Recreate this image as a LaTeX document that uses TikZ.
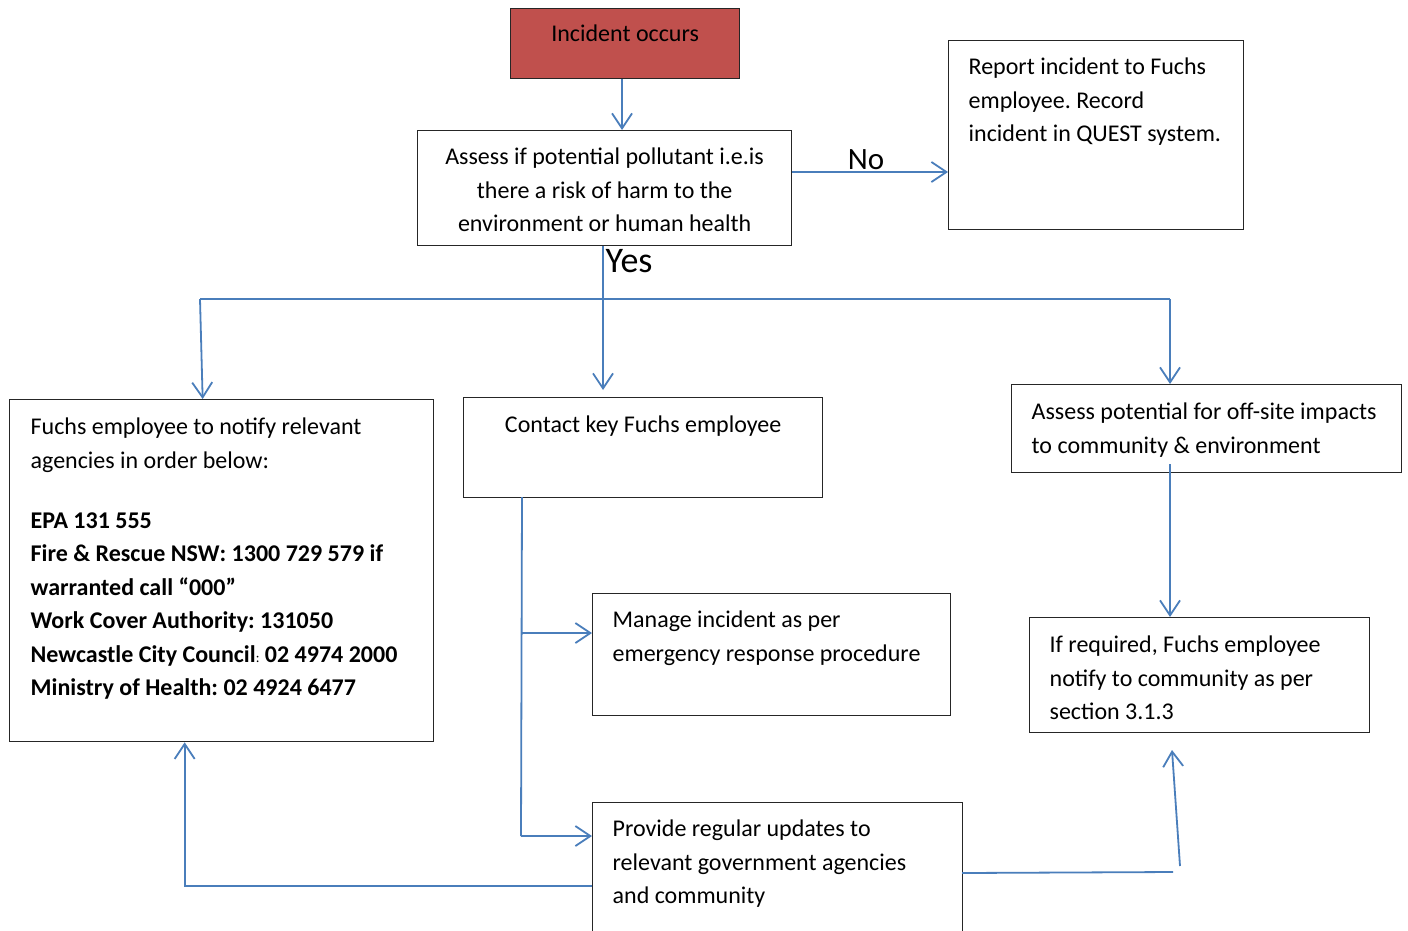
\documentclass[tikz,border=0pt]{standalone}
\usepackage{fontspec}
\setmainfont{Carlito}
\usetikzlibrary{arrows.meta}
\definecolor{conn}{HTML}{4A7EBB}
\definecolor{incred}{HTML}{C0504D}
\frenchspacing
\newcommand{\bxt}[4]{\begin{minipage}[t][#2][t]{#1}\vspace*{#3}\strut #4\end{minipage}}
\tikzset{
  box/.style={draw=black!85, line width=1.3pt, inner sep=0pt, anchor=north west,
    font=\fontsize{24}{33.5}\selectfont\frenchspacing},
  arr/.style={draw=conn, line width=1.8pt, -{Straight Barb[length=15pt,width=20pt]}},
  ln/.style={draw=conn, line width=1.8pt},
  lbl/.style={inner sep=0pt, font=\fontsize{31}{36}\selectfont}
}
\begin{document}
\begin{tikzpicture}[x=1pt,y=-1pt]
\clip (0,0) rectangle (1408,930);
\fill[white] (0,0) rectangle (1408,930);

\node[box, fill=incred] (inc) at (510,8)
  {\bxt{229pt}{70pt}{9.5pt}{\centering Incident occurs}};
\node[box] (assess) at (417,130)
  {\bxt{374pt}{115pt}{10.5pt}{\centering Assess if potential pollutant i.e.is\\there a risk of harm to the\\environment or human health}};
\node[box, inner xsep=20pt] (report) at (948,40)
  {\bxt{255pt}{189pt}{10.5pt}{\raggedright Report incident to Fuchs\\employee. Record\\incident in QUEST system.}};
\node[box, inner xsep=21pt] (notify) at (9,399)
  {\bxt{382pt}{342pt}{11.5pt}{\raggedright Fuchs employee to notify relevant\\agencies in order below:\par\vspace{26.5pt}
  \textbf{EPA 131 555}\\
  \textbf{Fire \& Rescue NSW: 1300 729 579 if}\\
  \textbf{warranted call “000”}\\
  \textbf{Work Cover Authority: 131050}\\
  \textbf{Newcastle City Council}{\fontsize{14}{14}\selectfont:} \textbf{02 4974 2000}\\
  \textbf{Ministry of Health: 02 4924 6477}}};
\node[box] (contact) at (463,397)
  {\bxt{359pt}{100pt}{11.5pt}{\centering Contact key Fuchs employee}};
\node[box, inner xsep=20pt] (offsite) at (1011,384)
  {\bxt{350pt}{88pt}{11.5pt}{\raggedright Assess potential for off-site impacts\\to community \& environment}};
\node[box, inner xsep=20pt] (manage) at (592,593)
  {\bxt{318pt}{122pt}{10.5pt}{\raggedright Manage incident as per\\emergency response procedure}};
\node[box, inner xsep=20pt] (req) at (1029,617)
  {\bxt{300pt}{115pt}{11.5pt}{\raggedright If required, Fuchs employee\\notify to community as per\\section 3.1.3}};
\node[box, inner xsep=20pt] (provide) at (592,802)
  {\bxt{330pt}{170pt}{10.5pt}{\raggedright Provide regular updates to\\relevant government agencies\\and community}};

% connectors
\draw[arr] (inc.south -| 622,0) -- (assess.north -| 622,0);
\coordinate (ny) at (0,172);
\draw[arr] (assess.east |- ny) -- (report.west |- ny);
\node[lbl] (no) at (866,160) {No};

\coordinate (hl) at (200,299);
\coordinate (hr) at (1170,299);
\coordinate (ym) at (603,299);
\draw[arr] (assess.south -| ym) -- ([yshift=7pt]contact.north -| ym);
\node[lbl, font=\fontsize{36}{40}\selectfont] (yes) at (629,261) {Yes};
\draw[ln] (hl) -- (hr);
\draw[arr] (hl) -- ([xshift=-19pt]notify.north);
\draw[arr] (hr) -- (offsite.north -| hr);
\draw[arr] ([yshift=9pt]offsite.south -| hr) -- (req.north -| hr);

\coordinate (cb) at (522,497);
\coordinate (b1) at (521.7,633);
\coordinate (b2) at (521,836);
\draw[ln] (cb) -- (b2);
\draw[arr] (b1) -- (b1 -| manage.west);
\draw[arr] (b2) -- (b2 -| provide.west);

\coordinate (p1) at (592,886);
\draw[arr] (p1) -| ([xshift=-37pt]notify.south);

\coordinate (pe) at (962,873);
\coordinate (q1) at (1173,872);
\coordinate (q2) at (1180,866);
\coordinate (q3) at (1172,750);
\draw[ln] (pe) -- (q1);
\draw[arr] (q2) -- (q3);
\end{tikzpicture}
\end{document}
